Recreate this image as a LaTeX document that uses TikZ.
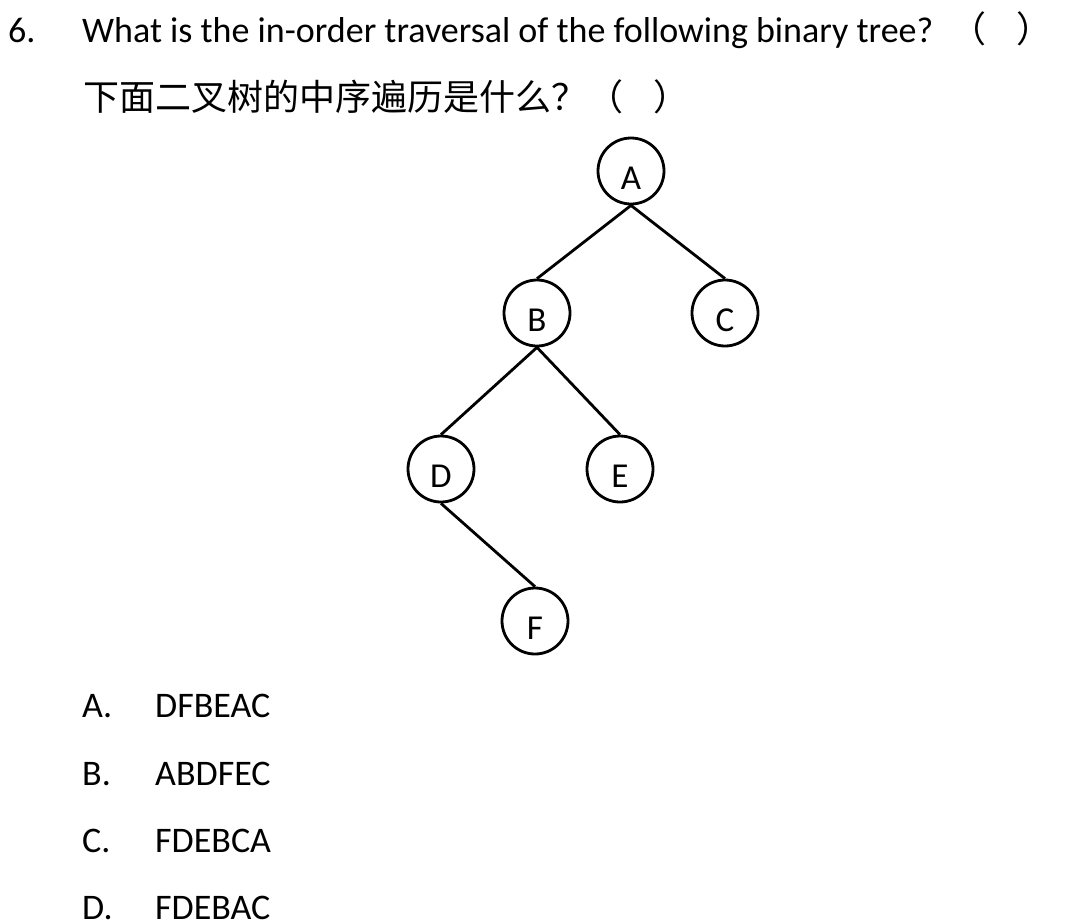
\documentclass[tikz,border=0pt]{standalone}
\usepackage{fontspec}
\setmainfont{Carlito}
\newfontfamily\cjk{Noto Sans CJK SC}

\begin{document}
\begin{tikzpicture}[x=1pt,y=-1pt,
  txt/.style={anchor=base west, inner sep=0pt, font=\fontsize{36}{42}\selectfont},
  cntxt/.style={anchor=base west, inner sep=0pt, font=\fontsize{36}{42}\selectfont\cjk},
  vertex/.style={draw=black, line width=2.8pt, circle, minimum size=66pt, inner sep=0pt,
    text height=37pt, text depth=0pt, font=\fontsize{35}{40}\selectfont},
  branch/.style={line width=2.8pt}]
\useasboundingbox (0,0) rectangle (1068,922);
%question:
\node[txt] (num) at (8,42) {6.};
\node[txt] (qen) at (82,42) {What is the in-order traversal of the following binary tree?};
\node[txt] (pen) at (950,42) {\cjk （\hspace{0.85em}）};
\node[cntxt] (qcn) at (83,110) {下面二叉树的中序遍历是什么？（\hspace{0.85em}）};
%tree:
\node[vertex] (A) at (631,171) {A};
\node[vertex] (B) at (537,313) {B};
\node[vertex] (C) at (725,313) {C};
\node[vertex] (D) at (441,469) {D};
\node[vertex] (E) at (620,469) {E};
\node[vertex] (F) at (535,621) {F};
\draw[branch] (A.south) -- (B.north);
\draw[branch] (A.south) -- (C.north);
\draw[branch] (B.south) -- (D.north);
\draw[branch] (B.south) -- (E.north);
\draw[branch] (D.south) -- (F.north);
%answers:
\node[txt] (la) at (82,717) {A.};
\node[txt] (ta) at (155,717) {DFBEAC};
\node[txt] (lb) at (82,785) {B.};
\node[txt] (tb) at (155,785) {ABDFEC};
\node[txt] (lc) at (82,852) {C.};
\node[txt] (tc) at (155,852) {FDEBCA};
\node[txt] (ld) at (82,919) {D.};
\node[txt] (td) at (155,919) {FDEBAC};
\end{tikzpicture}
\end{document}
